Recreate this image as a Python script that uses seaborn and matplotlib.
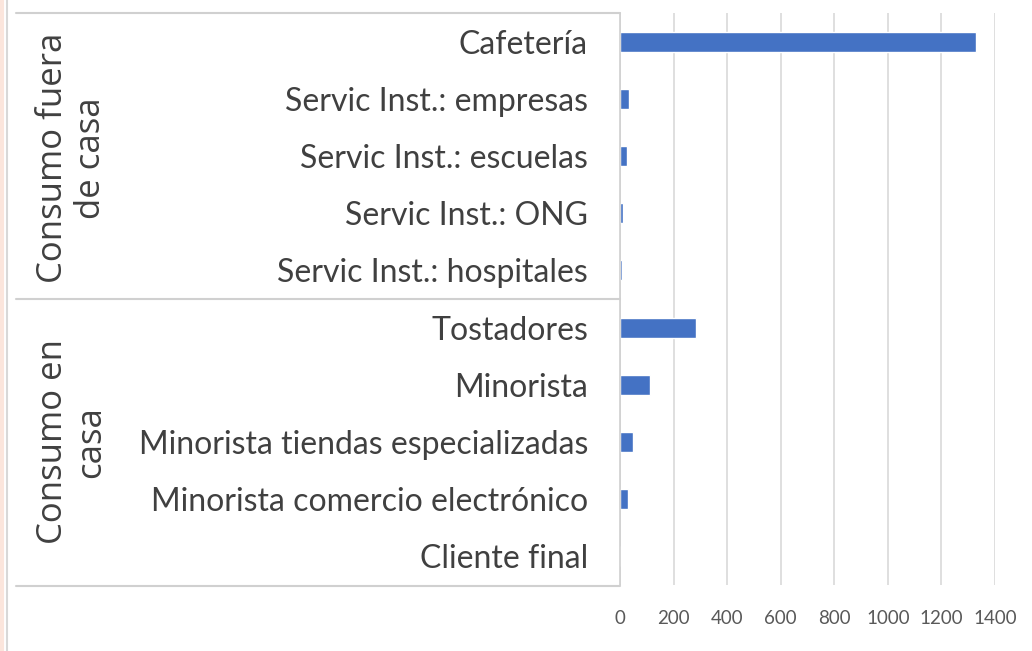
import matplotlib
matplotlib.use("Agg")
import matplotlib.pyplot as plt
import seaborn as sns
import pandas as pd
from matplotlib.lines import Line2D

categories = ["Cafetería", "Servic Inst.: empresas", "Servic Inst.: escuelas",
              "Servic Inst.: ONG", "Servic Inst.: hospitales", "Tostadores",
              "Minorista", "Minorista tiendas especializadas",
              "Minorista comercio electrónico", "Cliente final"]
values = [1330, 32, 27, 13, 6, 284, 113, 47, 30, 0]
groups = ["Consumo fuera\nde casa", "Consumo en\ncasa"]
xticks = [0, 200, 400, 600, 800, 1000, 1200, 1400]

df = pd.DataFrame({"Categoria": categories, "Valor": values})

sns.set_theme(style="white")
plt.rcParams['font.family'] = ['Lato', 'DejaVu Sans']

fig = plt.figure(figsize=(10.32, 6.51), dpi=100)
ax = fig.add_axes([620 / 1032, 1 - 585 / 651, 375 / 1032, 572 / 651])

sns.barplot(x="Valor", y="Categoria", data=df, color="#4472C4", width=0.35,
            saturation=1, orient="h", ax=ax)

ax.set_xlim(0, 1400)
ax.set_ylim(9.5, -0.5)
ax.set_xticks(xticks)
ax.set_xticklabels([str(t) for t in xticks], fontsize=13.5, color="#595959")
ax.tick_params(axis="x", length=0, pad=18)
ax.tick_params(axis="y", length=0, pad=23, labelsize=23, labelcolor="#404040")
ax.set_xlabel("")
ax.set_ylabel("")
ax.grid(axis="x", color="#D9D9D9", linewidth=1.2)
ax.set_axisbelow(True)
for s in ["top", "right", "bottom"]:
    ax.spines[s].set_visible(False)
ax.spines["left"].set_color("#D0D0D0")
ax.spines["left"].set_linewidth(1.2)

# marcos de los grupos
for yp in [13, 299, 586]:
    fig.add_artist(Line2D([16 / 1032, 620 / 1032], [1 - yp / 651, 1 - yp / 651],
                          color="#D0D0D0", linewidth=1.5))
fig.add_artist(Line2D([6.5 / 1032, 6.5 / 1032], [0, 1], color="#D8D8D8", linewidth=1.5))
fig.add_artist(Line2D([1.5 / 1032, 1.5 / 1032], [0, 1], color="#FBE5DC", linewidth=3))

fig.text(72 / 1032, 1 - 158 / 651, groups[0], rotation=90, ha="center", va="center",
         fontsize=25, color="#404040", family=["Open Sans", "DejaVu Sans"],
         multialignment="center", linespacing=1.15)
fig.text(72 / 1032, 1 - 442 / 651, groups[1], rotation=90, ha="center", va="center",
         fontsize=25, color="#404040", family=["Open Sans", "DejaVu Sans"],
         multialignment="center", linespacing=1.15)

fig.savefig("out.png", dpi=100)
